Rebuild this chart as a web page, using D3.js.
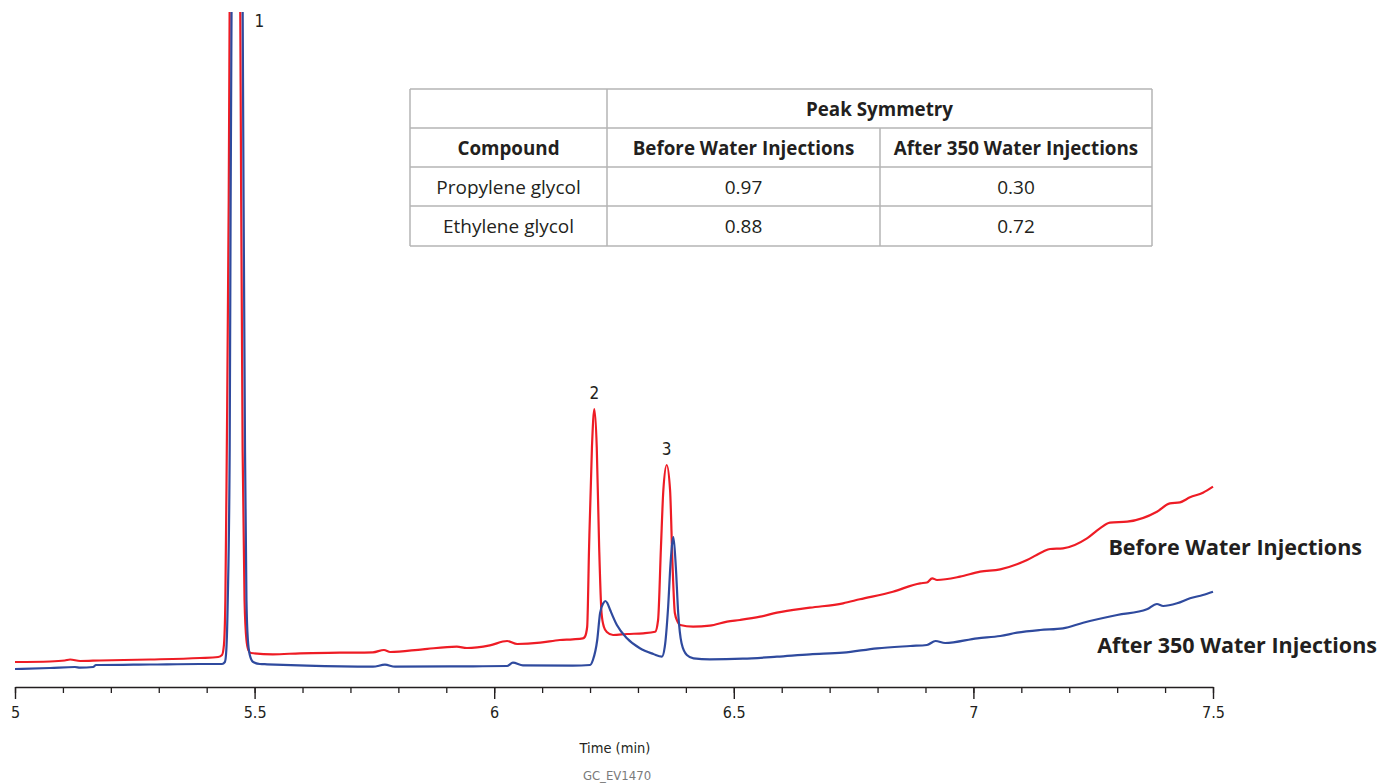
<!DOCTYPE html>
<html>
<head>
<meta charset="utf-8">
<script src="https://cdn.jsdelivr.net/npm/d3@7"></script>
<style>
  body { margin: 0; background: #fff; }
  svg { display: block; }
</style>
</head>
<body>
<svg id="chart"></svg>
<script>
// Chromatogram traces, time in min, signal in arbitrary units (peak 1 runs off scale)
const beforeTime = [5.000, 5.073, 5.104, 5.115, 5.136, 5.177, 5.282, 5.386, 5.424, 5.432, 5.436, 5.439, 5.442, 5.446, 5.448,
  5.458, 5.470, 5.472, 5.475, 5.479, 5.483, 5.487, 5.492, 5.538, 5.595, 5.678, 5.747, 5.770, 5.783, 5.851, 5.922, 5.943,
  5.991, 6.027, 6.048, 6.096, 6.137, 6.164, 6.185, 6.189, 6.194, 6.198, 6.204, 6.209, 6.214, 6.219, 6.224, 6.229, 6.235,
  6.248, 6.277, 6.311, 6.336, 6.342, 6.348, 6.353, 6.360, 6.367, 6.372, 6.377, 6.383, 6.388, 6.415, 6.450, 6.486, 6.513,
  6.555, 6.590, 6.659, 6.728, 6.763, 6.832, 6.889, 6.903, 6.914, 6.924, 6.972, 7.014, 7.056, 7.112, 7.145, 7.160, 7.187,
  7.237, 7.264, 7.285, 7.321, 7.383, 7.410, 7.431, 7.452, 7.479, 7.500];
const beforeSignal = [25, 25.5, 26.5, 27.5, 26, 26.5, 27.5, 29, 30, 32, 42, 87, 237, 487, 687,
  1700, 687, 487, 237, 87, 47, 37, 34, 32.7, 33.7, 34.3, 34.7, 37, 35, 37.7, 40.3, 39,
  41.7, 46, 43, 44.3, 47, 47.7, 48.7, 50, 60, 140, 240, 278, 240, 140, 74, 60, 55,
  52, 53, 53.7, 55.3, 67, 140, 197, 222, 197, 124, 74, 65, 62, 60.3, 61.3, 65.3, 67,
  70.3, 74.3, 79.3, 83.7, 87.7, 95.3, 103.7, 104.5, 108.7, 107, 110.3, 115.3, 117.7, 127, 135.3, 138, 138.7,
  148.7, 158.7, 164.3, 165.3, 175.3, 183.7, 184.7, 189.7, 194.3, 200.3];

const afterTime = [5.000, 5.073, 5.125, 5.136, 5.163, 5.169, 5.177, 5.282, 5.386, 5.417, 5.432, 5.438, 5.441, 5.444, 5.448,
  5.450, 5.452, 5.463, 5.475, 5.477, 5.480, 5.483, 5.486, 5.490, 5.497, 5.511, 5.526, 5.609, 5.747, 5.772, 5.793, 5.956,
  6.027, 6.039, 6.060, 6.164, 6.200, 6.206, 6.215, 6.221, 6.228, 6.232, 6.236, 6.242, 6.256, 6.277, 6.304, 6.332, 6.350,
  6.356, 6.363, 6.368, 6.374, 6.379, 6.384, 6.391, 6.402, 6.416, 6.450, 6.519, 6.590, 6.659, 6.728, 6.799, 6.868, 6.903,
  6.921, 6.941, 7.008, 7.056, 7.091, 7.139, 7.187, 7.229, 7.300, 7.362, 7.383, 7.396, 7.425, 7.452, 7.479, 7.500];
const afterSignal = [18, 19, 20, 19.3, 20, 22, 22, 22.5, 23, 23, 23, 25, 37, 87, 237,
  487, 687, 1700, 687, 487, 237, 87, 47, 32, 25, 23, 22.7, 21.3, 20.3, 22.3, 20.3, 20.7,
  21, 24.3, 21.7, 21.3, 22, 27, 47, 74, 84, 86, 84, 77, 62, 48.7, 38.7, 33, 30.3,
  40.3, 80.3, 123.7, 150, 120.3, 73.7, 43.7, 32, 28.7, 27.7, 28.3, 30.3, 32.7, 34.3, 38.7, 41, 42,
  46, 44, 48.7, 51, 54.3, 57, 58.7, 64.3, 72, 77.7, 83, 81, 83.7, 88.7, 92, 95.3];

// Peak numbers and where they sit
const peakLabels = ["1", "2", "3"];
const peakLabelTime = [5.510, 6.209, 6.360];
const peakLabelSignal = [650, 278, 222];

// Axis ticks
const timeTicks = [5, 5.5, 6, 6.5, 7, 7.5];
const minorTicks = d3.range(50, 76).map(d => d / 10);

// Inset table
const tableHeader = ["Compound", "Before Water Injections", "After 350 Water Injections"];
const compounds = ["Propylene glycol", "Ethylene glycol"];
const symmetryBefore = [0.97, 0.88];
const symmetryAfter = [0.30, 0.72];

const w = 1382;
const h = 784;
const textFont = "'Open Sans', 'Noto Sans', sans-serif";
const axisFont = "'Liberation Sans Narrow', 'DejaVu Sans Condensed', sans-serif";

let svg = d3.select("#chart")
    .attr("width", w)
    .attr("height", h)
    .attr("viewBox", "0 0 " + w + " " + h);

const xScale = d3.scaleLinear().domain([5, 7.5]).range([15, 1213]);
const yScale = d3.scaleLinear().domain([0, 675]).range([687, 12]);

svg.append("clipPath")
    .attr("id", "plot-clip")
    .append("rect")
    .attr("x", 0)
    .attr("y", yScale(675))
    .attr("width", w)
    .attr("height", yScale(0) - yScale(675));

const line = d3.line()
    .x(d => xScale(d[0]))
    .y(d => yScale(d[1]))
    .curve(d3.curveMonotoneX);

svg.append("path")
    .datum(d3.zip(beforeTime, beforeSignal))
    .attr("clip-path", "url(#plot-clip)")
    .attr("fill", "none")
    .attr("stroke", "#ee1c25")
    .attr("stroke-width", 2.2)
    .attr("stroke-linejoin", "round")
    .attr("d", line);

svg.append("path")
    .datum(d3.zip(afterTime, afterSignal))
    .attr("clip-path", "url(#plot-clip)")
    .attr("fill", "none")
    .attr("stroke", "#2f4a9e")
    .attr("stroke-width", 2.2)
    .attr("stroke-linejoin", "round")
    .attr("d", line);

// peak numbers
svg.selectAll(".peak-label")
    .data(peakLabels)
    .enter()
    .append("text")
    .attr("class", "peak-label")
    .attr("x", (d, i) => xScale(peakLabelTime[i]))
    .attr("y", (d, i) => yScale(peakLabelSignal[i]) - 10)
    .attr("text-anchor", "middle")
    .attr("font-family", axisFont)
    .attr("font-size", "17px")
    .attr("fill", "#231f20")
    .text(d => d);

// series labels
svg.append("text")
    .attr("x", 1362)
    .attr("y", 555)
    .attr("text-anchor", "end")
    .attr("font-family", textFont)
    .attr("font-weight", "bold")
    .attr("font-size", "21.5px")
    .attr("fill", "#231f20")
    .text("Before Water Injections");

svg.append("text")
    .attr("x", 1377)
    .attr("y", 653)
    .attr("text-anchor", "end")
    .attr("font-family", textFont)
    .attr("font-weight", "bold")
    .attr("font-size", "21.5px")
    .attr("fill", "#231f20")
    .text("After 350 Water Injections");

// x axis, major ticks with labels
let xAxis = d3.axisBottom(xScale)
    .tickValues(timeTicks)
    .tickSize(12)
    .tickSizeOuter(0)
    .tickPadding(8)
    .tickFormat(d3.format(""));

let axisG = svg.append("g")
    .attr("transform", "translate(0," + yScale(0) + ")")
    .call(xAxis);
axisG.select(".domain").attr("stroke", "#231f20").attr("stroke-width", 1.6);
axisG.selectAll(".tick line").attr("stroke", "#231f20").attr("stroke-width", 1.4);
axisG.selectAll("text")
    .attr("font-family", axisFont)
    .attr("font-size", "16px")
    .attr("fill", "#231f20");

// minor ticks
let minorG = svg.append("g")
    .attr("transform", "translate(0," + yScale(0) + ")")
    .call(d3.axisBottom(xScale).tickValues(minorTicks).tickSize(6).tickFormat(""));
minorG.select(".domain").remove();
minorG.selectAll(".tick line").attr("stroke", "#231f20").attr("stroke-width", 1.3);

svg.append("text")
    .attr("x", 615)
    .attr("y", 753)
    .attr("text-anchor", "middle")
    .attr("font-family", axisFont)
    .attr("font-size", "14.5px")
    .attr("fill", "#231f20")
    .text("Time (min)");

svg.append("text")
    .attr("x", 617)
    .attr("y", 780)
    .attr("text-anchor", "middle")
    .attr("font-family", axisFont)
    .attr("font-size", "13px")
    .attr("fill", "#7a7a7a")
    .text("GC_EV1470");

// inset table
const colX = [410, 607, 880, 1152];
const rowY = [89, 128, 167, 206, 246];
let table = svg.append("g").attr("class", "table");

table.selectAll(".hline")
    .data(rowY)
    .enter()
    .append("line")
    .attr("x1", colX[0])
    .attr("x2", colX[3])
    .attr("y1", d => d)
    .attr("y2", d => d);

table.append("line").attr("x1", colX[0]).attr("x2", colX[0]).attr("y1", rowY[0]).attr("y2", rowY[4]);
table.append("line").attr("x1", colX[1]).attr("x2", colX[1]).attr("y1", rowY[0]).attr("y2", rowY[4]);
table.append("line").attr("x1", colX[2]).attr("x2", colX[2]).attr("y1", rowY[1]).attr("y2", rowY[4]);
table.append("line").attr("x1", colX[3]).attr("x2", colX[3]).attr("y1", rowY[0]).attr("y2", rowY[4]);
table.selectAll("line").attr("stroke", "#b5b5b5").attr("stroke-width", 1.5);

function cellText(col0, col1, row, str, bold) {
    table.append("text")
        .attr("x", (colX[col0] + colX[col1]) / 2)
        .attr("y", (rowY[row] + rowY[row + 1]) / 2 + 7)
        .attr("text-anchor", "middle")
        .attr("font-family", textFont)
        .attr("font-weight", bold ? "bold" : "normal")
        .attr("font-size", bold ? "18.8px" : "19px")
        .attr("fill", "#231f20")
        .text(str);
}

cellText(1, 3, 0, "Peak Symmetry", true);
tableHeader.forEach((t, i) => cellText(i, i + 1, 1, t, true));
compounds.forEach((c, i) => {
    cellText(0, 1, i + 2, c, false);
    cellText(1, 2, i + 2, d3.format(".2f")(symmetryBefore[i]), false);
    cellText(2, 3, i + 2, d3.format(".2f")(symmetryAfter[i]), false);
});
</script>
</body>
</html>
